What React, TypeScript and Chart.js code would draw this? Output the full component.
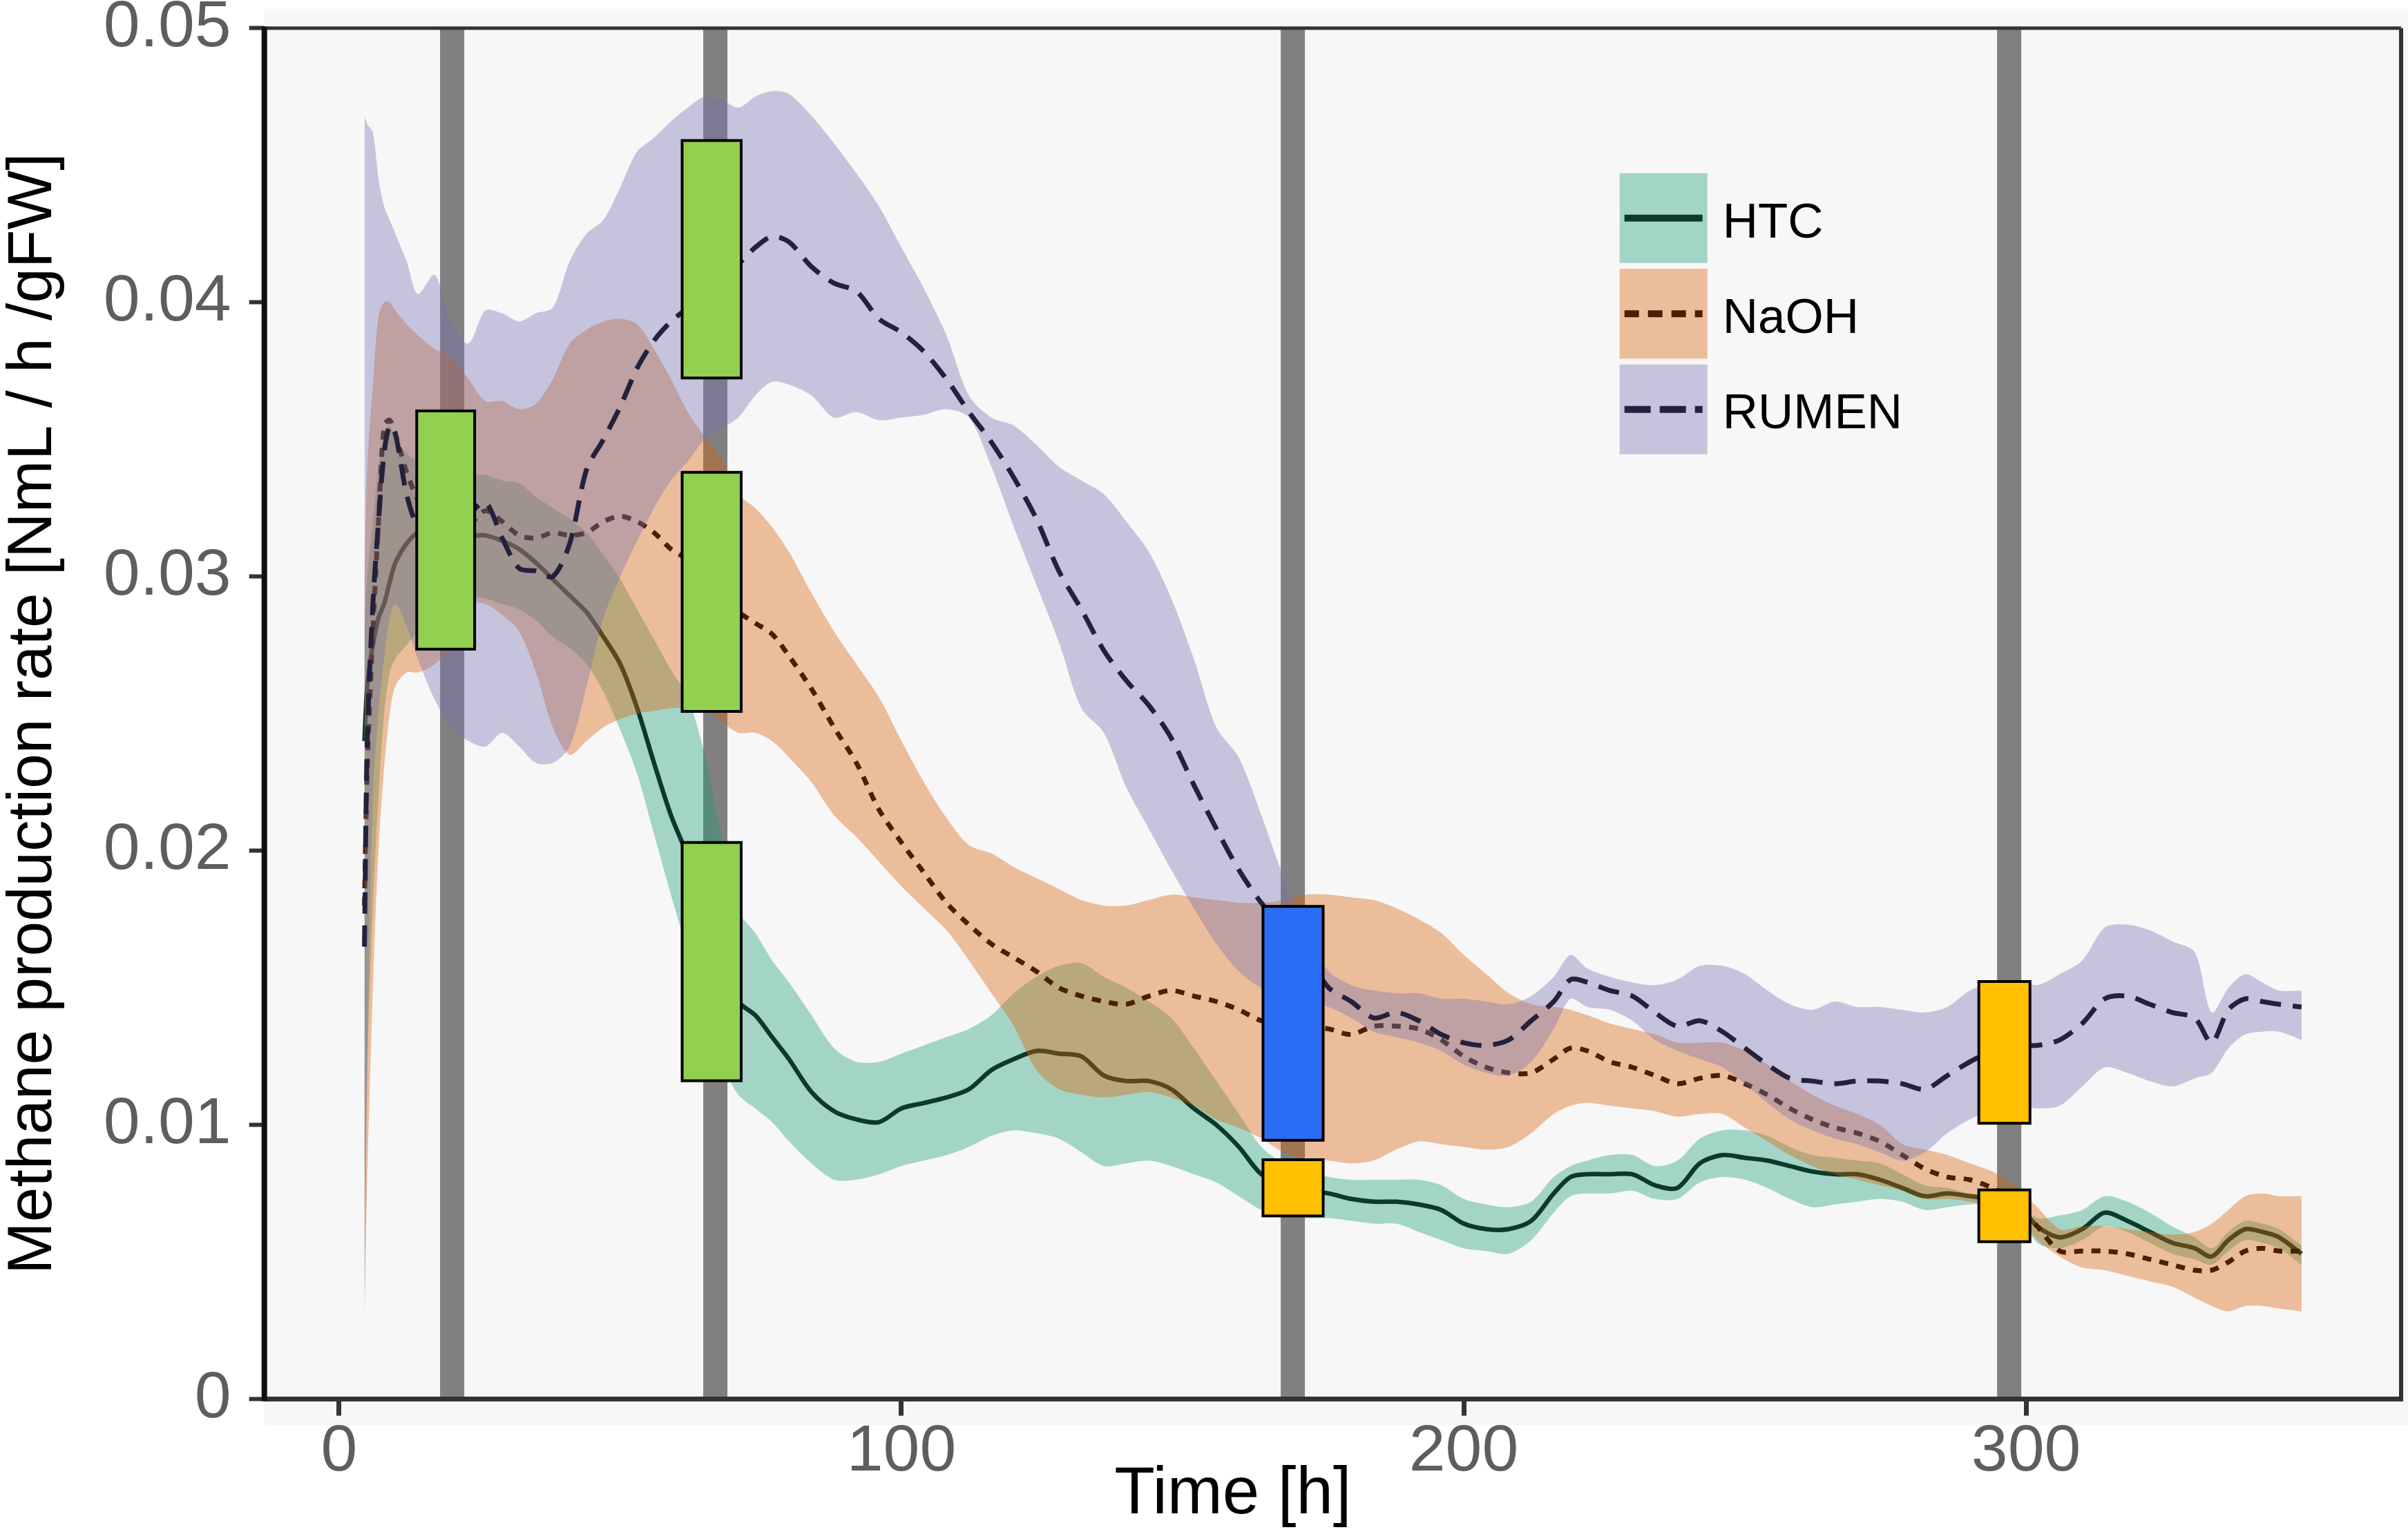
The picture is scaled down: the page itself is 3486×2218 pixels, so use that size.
import React, { useEffect, useRef } from "react";
import { Chart, registerables } from "chart.js";

Chart.register(...registerables);

const FONT = "'Liberation Sans', Arial, Helvetica, sans-serif";

// ---------- data ----------
const hours = [
  4.5, 5, 6, 7, 8, 9, 10, 12, 14, 17,
  20, 23, 26, 29, 32, 35, 38, 41, 44, 47,
  50, 53, 56, 59, 62, 65, 68, 71, 74, 77,
  80, 84, 88, 92, 96, 100, 104, 108, 112, 116,
  120, 124, 128, 132, 136, 140, 144, 148, 152, 156,
  160, 164, 168, 172, 176, 180, 184, 188, 192, 196,
  200, 204, 208, 212, 216, 219, 222, 226, 230, 234,
  238, 242, 246, 250, 254, 258, 262, 266, 270, 274,
  278, 282, 286, 290, 294, 298, 302, 306, 310, 314,
  318, 322, 326, 330, 333, 336, 339, 342, 345, 349,
];

const htcMean = [
  0.0240, 0.0260, 0.0275, 0.0285, 0.0290, 0.0298, 0.0305, 0.0312, 0.0316, 0.0318,
  0.0318, 0.0315, 0.0315, 0.0313, 0.0310, 0.0305, 0.0299, 0.0293, 0.0287, 0.0278,
  0.0268, 0.0252, 0.0232, 0.0213, 0.0198, 0.0180, 0.0160, 0.0145, 0.0140, 0.0132,
  0.0124, 0.0112, 0.0105, 0.0102, 0.0101, 0.0106, 0.0108, 0.0110, 0.0113, 0.0120,
  0.0124, 0.0127, 0.0126, 0.0125, 0.0118, 0.0116, 0.0116, 0.0113, 0.0106, 0.0100,
  0.0092, 0.0082, 0.0078, 0.0076, 0.0075, 0.0073, 0.0072, 0.0072, 0.0071, 0.0069,
  0.0064, 0.0062, 0.0062, 0.0065, 0.0075, 0.0081, 0.0082, 0.0082, 0.0082, 0.0078,
  0.0077, 0.0086, 0.0089, 0.0088, 0.0087, 0.0085, 0.0083, 0.0082, 0.0082, 0.0080,
  0.0077, 0.0074, 0.0075, 0.0074, 0.0073, 0.0072, 0.0063, 0.0059, 0.0062, 0.0068,
  0.0065, 0.0061, 0.0057, 0.0055, 0.0052, 0.0058, 0.0062, 0.0061, 0.0059, 0.0053,
];
const htcUpper = [
  0.0280, 0.0300, 0.0320, 0.0340, 0.0352, 0.0355, 0.0350, 0.0345, 0.0342, 0.0340,
  0.0338, 0.0337, 0.0337, 0.0335, 0.0334, 0.0329, 0.0325, 0.0321, 0.0316, 0.0308,
  0.0299, 0.0288, 0.0277, 0.0266, 0.0256, 0.0235, 0.0205, 0.0178, 0.0170, 0.0160,
  0.0152, 0.0140, 0.0128, 0.0123, 0.0123, 0.0126, 0.0129, 0.0132, 0.0135, 0.0140,
  0.0148, 0.0154, 0.0158, 0.0159, 0.0154, 0.0150, 0.0145, 0.0139, 0.0128, 0.0116,
  0.0104, 0.0092, 0.0086, 0.0083, 0.0081, 0.0080, 0.0080, 0.0080, 0.0080, 0.0078,
  0.0073, 0.0071, 0.0070, 0.0072, 0.0081, 0.0085, 0.0087, 0.0089, 0.0089, 0.0085,
  0.0087, 0.0095, 0.0098, 0.0098, 0.0096, 0.0092, 0.0089, 0.0088, 0.0087, 0.0086,
  0.0082, 0.0078, 0.0077, 0.0075, 0.0074, 0.0072, 0.0066, 0.0067, 0.0069, 0.0074,
  0.0072, 0.0068, 0.0063, 0.0059, 0.0055, 0.0061, 0.0065, 0.0064, 0.0062, 0.0056,
];
const htcLower = [
  0.0060, 0.0120, 0.0180, 0.0220, 0.0250, 0.0265, 0.0270, 0.0275, 0.0280, 0.0288,
  0.0295, 0.0293, 0.0292, 0.0290, 0.0288, 0.0284, 0.0278, 0.0274, 0.0268, 0.0258,
  0.0244, 0.0228, 0.0206, 0.0184, 0.0163, 0.0140, 0.0122, 0.0111, 0.0106, 0.0101,
  0.0094, 0.0086, 0.0080, 0.0080, 0.0082, 0.0085, 0.0087, 0.0089, 0.0092, 0.0096,
  0.0098, 0.0097, 0.0095, 0.0090, 0.0085, 0.0086, 0.0087, 0.0085, 0.0082, 0.0079,
  0.0074, 0.0069, 0.0067, 0.0066, 0.0066, 0.0065, 0.0064, 0.0064, 0.0061, 0.0058,
  0.0055, 0.0054, 0.0053, 0.0058, 0.0068, 0.0074, 0.0075, 0.0075, 0.0076, 0.0073,
  0.0073, 0.0079, 0.0081, 0.0080, 0.0077, 0.0073, 0.0070, 0.0071, 0.0072, 0.0073,
  0.0072, 0.0069, 0.0070, 0.0071, 0.0071, 0.0070, 0.0057, 0.0055, 0.0058, 0.0063,
  0.0061, 0.0057, 0.0053, 0.0051, 0.0049, 0.0054, 0.0058, 0.0057, 0.0055, 0.0049,
];

const naohMean = [
  0.0180, 0.0230, 0.0280, 0.0320, 0.0355, 0.0357, 0.0352, 0.0338, 0.0328, 0.0318,
  0.0312, 0.0318, 0.0324, 0.0320, 0.0315, 0.0314, 0.0316, 0.0315, 0.0316, 0.0320,
  0.0322, 0.0320, 0.0316, 0.0310, 0.0306, 0.0298, 0.0292, 0.0287, 0.0283, 0.0279,
  0.0271, 0.0259, 0.0245, 0.0232, 0.0215, 0.0203, 0.0192, 0.0181, 0.0173, 0.0166,
  0.0161, 0.0156, 0.0150, 0.0147, 0.0145, 0.0144, 0.0147, 0.0149, 0.0147, 0.0145,
  0.0142, 0.0138, 0.0137, 0.0136, 0.0135, 0.0133, 0.0136, 0.0136, 0.0135, 0.0131,
  0.0125, 0.0121, 0.0119, 0.0119, 0.0124, 0.0128, 0.0127, 0.0123, 0.0121, 0.0118,
  0.0115, 0.0117, 0.0118, 0.0115, 0.0111, 0.0106, 0.0102, 0.0099, 0.0097, 0.0094,
  0.0089, 0.0084, 0.0081, 0.0080, 0.0077, 0.0072, 0.0063, 0.0054, 0.0054, 0.0054,
  0.0053, 0.0051, 0.0049, 0.0047, 0.0047, 0.0050, 0.0054, 0.0055, 0.0054, 0.0054,
];
const naohUpper = [
  0.0300, 0.0340, 0.0370, 0.0395, 0.0400, 0.0400, 0.0397, 0.0392, 0.0388, 0.0383,
  0.0380, 0.0372, 0.0364, 0.0364, 0.0361, 0.0363, 0.0372, 0.0385, 0.0390, 0.0393,
  0.0394, 0.0392, 0.0383, 0.0372, 0.0360, 0.0351, 0.0343, 0.0330, 0.0325, 0.0318,
  0.0309, 0.0294, 0.0280, 0.0268, 0.0256, 0.0240, 0.0225, 0.0212, 0.0202, 0.0199,
  0.0194, 0.0190, 0.0186, 0.0182, 0.0180, 0.0180, 0.0182, 0.0184, 0.0183, 0.0182,
  0.0181, 0.0181, 0.0182, 0.0184, 0.0184, 0.0183, 0.0182, 0.0179, 0.0175, 0.0170,
  0.0162, 0.0155, 0.0148, 0.0144, 0.0143, 0.0142, 0.0140, 0.0137, 0.0135, 0.0133,
  0.0130, 0.0130, 0.0130, 0.0127, 0.0122, 0.0116, 0.0111, 0.0107, 0.0104, 0.0100,
  0.0093, 0.0091, 0.0089, 0.0086, 0.0083, 0.0078, 0.0070, 0.0062, 0.0063, 0.0063,
  0.0062, 0.0061, 0.0060, 0.0061, 0.0064, 0.0069, 0.0074, 0.0075, 0.0074, 0.0074,
];
const naohLower = [
  0.0030, 0.0080, 0.0150, 0.0200, 0.0230, 0.0250, 0.0260, 0.0265, 0.0265, 0.0268,
  0.0275, 0.0290, 0.0290, 0.0286, 0.0280, 0.0265, 0.0245, 0.0235, 0.0240, 0.0245,
  0.0248, 0.0250, 0.0251, 0.0252, 0.0252, 0.0252, 0.0247, 0.0243, 0.0243, 0.0240,
  0.0234, 0.0225, 0.0213, 0.0205, 0.0196, 0.0187, 0.0179, 0.0171, 0.0160, 0.0148,
  0.0136, 0.0120, 0.0113, 0.0111, 0.0110, 0.0111, 0.0112, 0.0110, 0.0107, 0.0102,
  0.0099, 0.0095, 0.0090, 0.0088, 0.0087, 0.0086, 0.0087, 0.0091, 0.0094, 0.0093,
  0.0092, 0.0091, 0.0092, 0.0097, 0.0104, 0.0107, 0.0108, 0.0107, 0.0106, 0.0105,
  0.0103, 0.0104, 0.0104, 0.0099, 0.0094, 0.0089, 0.0085, 0.0082, 0.0080, 0.0078,
  0.0076, 0.0073, 0.0073, 0.0072, 0.0071, 0.0068, 0.0058, 0.0052, 0.0048, 0.0047,
  0.0045, 0.0043, 0.0041, 0.0037, 0.0034, 0.0032, 0.0034, 0.0034, 0.0033, 0.0032,
];

const rumenMean = [
  0.0165, 0.0240, 0.0290, 0.0320, 0.0345, 0.0355, 0.0352, 0.0330, 0.0318, 0.0312,
  0.0312, 0.0322, 0.0327, 0.0314, 0.0303, 0.0302, 0.0300, 0.0312, 0.0339, 0.0350,
  0.0362, 0.0376, 0.0386, 0.0393, 0.0398, 0.0404, 0.0410, 0.0414, 0.0420, 0.0424,
  0.0422, 0.0413, 0.0407, 0.0404, 0.0394, 0.0389, 0.0382, 0.0372, 0.0360, 0.0349,
  0.0336, 0.0321, 0.0302, 0.0288, 0.0273, 0.0262, 0.0253, 0.0241, 0.0224, 0.0208,
  0.0193, 0.0181, 0.0172, 0.0162, 0.0150, 0.0145, 0.0139, 0.0141, 0.0138, 0.0133,
  0.0130, 0.0129, 0.0131, 0.0138, 0.0145, 0.0153, 0.0152, 0.0149, 0.0147, 0.0141,
  0.0136, 0.0138, 0.0134, 0.0128, 0.0122, 0.0117, 0.0116, 0.0115, 0.0116, 0.0116,
  0.0115, 0.0113, 0.0118, 0.0123, 0.0127, 0.0129, 0.0129, 0.0131, 0.0137, 0.0146,
  0.0147, 0.0144, 0.0141, 0.0139, 0.0130, 0.0142, 0.0146, 0.0145, 0.0144, 0.0143,
];
const rumenUpper = [
  0.0468, 0.0465, 0.0462, 0.0445, 0.0435, 0.0430, 0.0425, 0.0415, 0.0403, 0.0410,
  0.0392, 0.0385, 0.0397, 0.0396, 0.0393, 0.0396, 0.0398, 0.0415, 0.0425, 0.0430,
  0.0442, 0.0455, 0.0460, 0.0466, 0.0471, 0.0475, 0.0474, 0.0471, 0.0475, 0.0477,
  0.0476, 0.0468, 0.0458, 0.0447, 0.0435, 0.0420, 0.0405, 0.0388, 0.0366, 0.0358,
  0.0355, 0.0348, 0.0340, 0.0335, 0.0330, 0.0320, 0.0309, 0.0292, 0.0270, 0.0245,
  0.0234, 0.0213, 0.0190, 0.0170, 0.0156, 0.0151, 0.0149, 0.0148, 0.0148, 0.0146,
  0.0146, 0.0145, 0.0144, 0.0147, 0.0154, 0.0162, 0.0157, 0.0154, 0.0152, 0.0151,
  0.0153, 0.0158, 0.0158, 0.0155, 0.0149, 0.0144, 0.0142, 0.0145, 0.0143, 0.0143,
  0.0142, 0.0141, 0.0143, 0.0149, 0.0152, 0.0153, 0.0151, 0.0155, 0.0160, 0.0172,
  0.0173, 0.0171, 0.0167, 0.0163, 0.0141, 0.0150, 0.0155, 0.0152, 0.0149, 0.0149,
];
const rumenLower = [
  0.0020, 0.0120, 0.0220, 0.0250, 0.0270, 0.0285, 0.0290, 0.0282, 0.0270, 0.0255,
  0.0245, 0.0240, 0.0238, 0.0243, 0.0238, 0.0232, 0.0232, 0.0238, 0.0260, 0.0285,
  0.0300, 0.0313, 0.0325, 0.0335, 0.0342, 0.0350, 0.0354, 0.0358, 0.0366, 0.0371,
  0.0370, 0.0366, 0.0358, 0.0360, 0.0357, 0.0358, 0.0359, 0.0361, 0.0358, 0.0340,
  0.0318, 0.0297, 0.0276, 0.0252, 0.0243, 0.0223, 0.0208, 0.0193, 0.0179, 0.0166,
  0.0156, 0.0150, 0.0147, 0.0145, 0.0143, 0.0139, 0.0134, 0.0132, 0.0130, 0.0127,
  0.0122, 0.0119, 0.0118, 0.0123, 0.0135, 0.0146, 0.0143, 0.0142, 0.0138, 0.0131,
  0.0127, 0.0124, 0.0121, 0.0115, 0.0108, 0.0102, 0.0098, 0.0095, 0.0093, 0.0090,
  0.0087, 0.0090, 0.0097, 0.0102, 0.0105, 0.0107, 0.0106, 0.0107, 0.0114, 0.0121,
  0.0119, 0.0116, 0.0114, 0.0117, 0.0119, 0.0128, 0.0133, 0.0134, 0.0134, 0.0131,
];

const seriesNames = ["HTC", "NaOH", "RUMEN"];
const xTickValues = [0, 100, 200, 300];
const yTickValues = [0, 0.01, 0.02, 0.03, 0.04, 0.05];

// feeding events (vertical grey bars), in hours
const eventHours = [20.1, 66.9, 169.6, 297.0];

// boxes: time span [h] and value span
const boxStart = [13.8, 61.0, 61.0, 61.0, 164.3, 164.3, 291.6, 291.6];
const boxEnd = [24.1, 71.5, 71.5, 71.5, 175.0, 175.0, 300.7, 300.7];
const boxHigh = [0.03604, 0.0459, 0.0338, 0.0203, 0.01797, 0.00873, 0.01523, 0.00763];
const boxLow = [0.02735, 0.03724, 0.02508, 0.01161, 0.00944, 0.00668, 0.01006, 0.00574];
const boxKind = ["green", "green", "green", "green", "blue", "yellow", "yellow", "yellow"];

// ---------- styles ----------
const BOX_COLORS: Record<string, string> = { green: "#92d050", blue: "#2a6df6", yellow: "#ffc000" };
const FILL_COLORS = ["rgba(27,158,119,0.38)", "rgba(217,95,2,0.38)", "rgba(117,112,179,0.38)"];
const LINE_COLORS = ["#0b3a2a", "#4a1f02", "#23213c"];
const LINE_WIDTHS = [6.5, 7, 7];
const LINE_DASH = [[], [13, 12], [31, 17]];
const LEGEND_DASH = [[], [21, 13], [38, 13]];
const EVENT_HALF_WIDTH_H = 2.15;

const pts = (arr: number[]) => hours.map((h, i) => ({ x: h, y: arr[i] }));

const panelPlugin = {
  id: "panelBg",
  beforeDraw(chart: any) {
    const { ctx, chartArea: a, width, height } = chart;
    ctx.save();
    ctx.fillStyle = "#ffffff";
    ctx.fillRect(0, 0, width, height);
    ctx.fillStyle = "#f7f7f7";
    ctx.fillRect(a.left, a.top - 28, width - a.left, a.bottom - a.top + 66);
    ctx.restore();
  },
};

const eventsPlugin = {
  id: "events",
  beforeDatasetsDraw(chart: any) {
    const { ctx, chartArea: a, scales } = chart;
    ctx.save();
    ctx.fillStyle = "#808080";
    eventHours.forEach((h) => {
      const l = scales.x.getPixelForValue(h - EVENT_HALF_WIDTH_H);
      const r = scales.x.getPixelForValue(h + EVENT_HALF_WIDTH_H);
      ctx.fillRect(l, a.top, r - l, a.bottom - a.top);
    });
    ctx.restore();
  },
};

const boxesPlugin = {
  id: "boxes",
  afterDatasetsDraw(chart: any) {
    const { ctx, scales } = chart;
    ctx.save();
    boxStart.forEach((s, i) => {
      const l = scales.x.getPixelForValue(s);
      const r = scales.x.getPixelForValue(boxEnd[i]);
      const t = scales.y.getPixelForValue(boxHigh[i]);
      const b = scales.y.getPixelForValue(boxLow[i]);
      ctx.fillStyle = BOX_COLORS[boxKind[i]];
      ctx.fillRect(l, t, r - l, b - t);
      ctx.lineWidth = 4;
      ctx.strokeStyle = "#000";
      ctx.strokeRect(l, t, r - l, b - t);
    });
    ctx.restore();
  },
};

const framePlugin = {
  id: "frame",
  afterDraw(chart: any) {
    const { ctx, chartArea: a } = chart;
    ctx.save();
    ctx.strokeStyle = "#333";
    ctx.lineWidth = 5;
    ctx.beginPath();
    ctx.moveTo(a.left, a.top);
    ctx.lineTo(a.right, a.top);
    ctx.stroke();
    ctx.lineWidth = 6;
    ctx.beginPath();
    ctx.moveTo(a.right, a.top);
    ctx.lineTo(a.right, a.bottom);
    ctx.stroke();
    ctx.lineWidth = 7;
    ctx.beginPath();
    ctx.moveTo(a.left, a.bottom);
    ctx.lineTo(a.right + 3, a.bottom);
    ctx.stroke();
    ctx.strokeStyle = "#111";
    ctx.lineWidth = 8;
    ctx.beginPath();
    ctx.moveTo(a.left, a.top - 2);
    ctx.lineTo(a.left, a.bottom + 3);
    ctx.stroke();

    // x axis title
    ctx.fillStyle = "#000";
    ctx.font = `96px ${FONT}`;
    ctx.textAlign = "center";
    ctx.textBaseline = "alphabetic";
    ctx.fillText("Time [h]", a.left + 0.4533 * (a.right - a.left), a.bottom + 165);

    // legend
    const kx = a.left + 1962;
    const kw = 127;
    const kh = 130;
    seriesNames.forEach((name, i) => {
      const ky = a.top + 210 + i * 138.5;
      ctx.fillStyle = FILL_COLORS[i];
      ctx.fillRect(kx, ky, kw, kh);
      ctx.strokeStyle = LINE_COLORS[i];
      ctx.lineWidth = 10;
      ctx.setLineDash(LEGEND_DASH[i]);
      ctx.beginPath();
      ctx.moveTo(kx + 7, ky + kh / 2);
      ctx.lineTo(kx + kw - 7, ky + kh / 2);
      ctx.stroke();
      ctx.setLineDash([]);
      ctx.fillStyle = "#000";
      ctx.font = `71px ${FONT}`;
      ctx.textAlign = "left";
      ctx.textBaseline = "alphabetic";
      ctx.fillText(name, a.left + 2111, a.top + 303 + i * 138);
    });
    ctx.restore();
  },
};

const bandSet = (i: number, mean: number[], upper: number[], lower: number[], baseOrder: number) => [
  {
    label: seriesNames[i] + " upper",
    data: pts(upper),
    fill: "+1",
    backgroundColor: FILL_COLORS[i],
    borderColor: "rgba(0,0,0,0)",
    borderWidth: 0,
    pointRadius: 0,
    tension: 0.3,
    order: baseOrder + 1,
  },
  {
    label: seriesNames[i] + " lower",
    data: pts(lower),
    fill: false,
    borderColor: "rgba(0,0,0,0)",
    borderWidth: 0,
    pointRadius: 0,
    tension: 0.3,
    order: baseOrder + 1,
  },
  {
    label: seriesNames[i],
    data: pts(mean),
    fill: false,
    borderColor: LINE_COLORS[i],
    borderWidth: LINE_WIDTHS[i],
    borderDash: LINE_DASH[i],
    pointRadius: 0,
    tension: 0.3,
    order: baseOrder,
  },
];

export default function App() {
  const ref = useRef<HTMLCanvasElement>(null);

  useEffect(() => {
    if (!ref.current) return;
    const chart = new Chart(ref.current, {
      type: "line",
      data: {
        datasets: [
          ...bandSet(0, htcMean, htcUpper, htcLower, 4),
          ...bandSet(1, naohMean, naohUpper, naohLower, 2),
          ...bandSet(2, rumenMean, rumenUpper, rumenLower, 0),
        ] as any,
      },
      options: {
        animation: false,
        responsive: false,
        maintainAspectRatio: false,
        devicePixelRatio: 1,
        events: [],
        layout: { padding: { top: 40.7, right: 10, left: 0, bottom: 0 } },
        plugins: {
          legend: { display: false },
          tooltip: { enabled: false },
          title: { display: false },
        },
        scales: {
          x: {
            type: "linear",
            min: -13.3,
            max: 366.7,
            afterBuildTicks: (s: any) => {
              s.ticks = xTickValues.map((v) => ({ value: v }));
            },
            ticks: {
              includeBounds: false,
              autoSkip: false,
              maxRotation: 0,
              color: "#5e5e5e",
              font: { size: 95, family: FONT, lineHeight: 1.0 },
              padding: 6,
              callback: (v: any) => String(v),
            },
            grid: {
              drawOnChartArea: false,
              drawTicks: true,
              tickLength: 24,
              tickWidth: 7,
              tickColor: "#333",
            },
            border: { display: false },
            afterFit: (s: any) => {
              s.height = 192.4;
              s.paddingLeft = 0;
              s.paddingRight = 0;
            },
          },
          y: {
            type: "linear",
            min: 0,
            max: 0.05,
            afterBuildTicks: (s: any) => {
              s.ticks = yTickValues.map((v) => ({ value: v }));
            },
            ticks: {
              color: "#5e5e5e",
              font: { size: 95, family: FONT, lineHeight: 0.8 },
              padding: 26,
              callback: (v: any) => (Number(v) === 0 ? "0" : Number(v).toFixed(2)),
            },
            grid: {
              drawOnChartArea: false,
              drawTicks: true,
              tickLength: 22,
              tickWidth: 6,
              tickColor: "#333",
            },
            border: { display: false },
            title: {
              display: true,
              text: "Methane production rate [NmL / h /gFW]",
              color: "#000",
              font: { size: 91, family: FONT, lineHeight: 1.08 },
              padding: { top: 0, bottom: 0 },
            },
            afterFit: (s: any) => {
              s.width = 382.7;
              s.paddingTop = 0;
              s.paddingBottom = 0;
            },
          },
        },
      } as any,
      plugins: [panelPlugin, eventsPlugin, boxesPlugin, framePlugin],
    });
    return () => chart.destroy();
  }, []);

  return (
    <div style={{ position: "fixed", left: 0, top: 0, width: 3486, height: 2218, background: "#fff" }}>
      <canvas ref={ref} width={3486} height={2218} style={{ display: "block", width: 3486, height: 2218 }} />
    </div>
  );
}
